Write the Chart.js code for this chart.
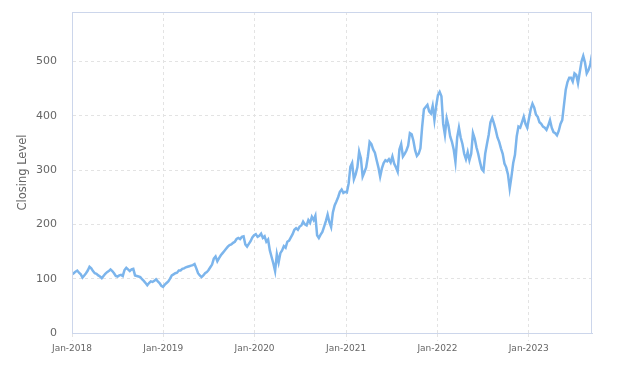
<!DOCTYPE html>
<html>
<head>
<meta charset="utf-8">
<script src="https://cdn.jsdelivr.net/npm/chart.js@4"></script>
<style>
  html, body { margin: 0; padding: 0; background: #fff; }
  #wrap { width: 631px; height: 366px; }
</style>
</head>
<body>
<div id="wrap"><canvas id="chart"></canvas></div>
<script>
// weekly closing levels, first week = start of Jan 2018
const startDate = "2018-01-01";
const closes2018 = [108, 110, 113, 115, 111, 108, 102, 106, 110, 115, 122, 119, 114, 110, 109, 106, 104, 101, 105, 109, 112, 114, 117, 114, 110, 105, 104, 106, 107, 105, 116, 120, 117, 114, 117, 118, 106, 105, 104, 103, 99, 96, 92, 88, 92, 95, 94, 96, 99, 95, 92, 87];
const closes2019 = [85, 89, 92, 95, 100, 106, 108, 110, 111, 115, 115, 118, 119, 121, 122, 123, 124, 125, 127, 119, 110, 106, 103, 106, 110, 112, 116, 121, 126, 137, 141, 132, 138, 143, 147, 151, 155, 159, 162, 163, 166, 168, 173, 175, 173, 177, 178, 163, 159, 164, 169, 176];
const closes2020 = [180, 182, 177, 179, 183, 175, 178, 168, 172, 152, 140, 128, 114, 145, 130, 147, 152, 160, 157, 168, 170, 176, 182, 190, 193, 190, 196, 198, 205, 200, 198, 208, 203, 214, 208, 216, 180, 175, 181, 186, 196, 206, 218, 204, 195, 222, 235, 242, 250, 260, 264, 258];
const closes2021 = [260, 259, 275, 306, 313, 283, 292, 305, 334, 322, 288, 296, 305, 325, 352, 348, 338, 332, 318, 305, 288, 303, 313, 318, 316, 320, 314, 325, 312, 305, 297, 338, 348, 325, 330, 336, 345, 368, 366, 354, 336, 326, 330, 340, 380, 412, 416, 420, 408, 404, 418, 392];
const closes2022 = [418, 438, 444, 436, 385, 365, 395, 382, 362, 352, 338, 315, 360, 378, 360, 348, 330, 320, 333, 318, 330, 368, 358, 342, 330, 315, 302, 298, 330, 348, 365, 388, 396, 386, 374, 360, 352, 340, 330, 312, 305, 292, 266, 288, 313, 328, 362, 380, 378, 388, 398, 385];
const closes2023 = [378, 395, 412, 422, 415, 402, 398, 388, 385, 380, 378, 374, 382, 392, 378, 370, 368, 364, 372, 385, 392, 420, 448, 462, 470, 470, 463, 478, 475, 460, 480, 500, 510, 498, 478, 484, 494, 513];

const closes = [...closes2018, ...closes2019, ...closes2020, ...closes2021, ...closes2022, ...closes2023];
const yearLabels = ["Jan-2018", "Jan-2019", "Jan-2020", "Jan-2021", "Jan-2022", "Jan-2023"];
const yearStarts = ["2018-01-01", "2019-01-01", "2020-01-01", "2021-01-01", "2022-01-01", "2023-01-01"];
const yTicks = [0, 100, 200, 300, 400, 500];

const DAY = 86400000;
function weekOf(d) {
  return (new Date(d) - new Date(startDate)) / DAY / 7;
}
const yearTickPos = yearStarts.map(weekOf);

const points = closes.map((v, i) => ({ x: i, y: v }));

const frame = {
  id: "frame",
  afterDraw(chart) {
    const { ctx, chartArea: a } = chart;
    ctx.save();
    ctx.strokeStyle = "#ccd6eb";
    ctx.lineWidth = 1;
    ctx.strokeRect(a.left + 0.5, a.top + 0.5, a.right - a.left - 1, a.bottom - a.top);
    ctx.restore();
  },
};

Chart.defaults.font.family = "'DejaVu Sans', sans-serif";
Chart.defaults.color = "#666666";

new Chart(document.getElementById("chart"), {
  type: "line",
  data: {
    datasets: [
      {
        label: "Closing Level",
        data: points,
        borderColor: "#7cb5ec",
        borderWidth: 2.5,
        pointRadius: 0,
        tension: 0,
        fill: false,
      },
    ],
  },
  options: {
    responsive: true,
    maintainAspectRatio: false,
    animation: false,
    layout: { padding: { top: 12, right: 39, left: 0, bottom: 0 } },
    plugins: { legend: { display: false }, tooltip: { enabled: false } },
    scales: {
      x: {
        type: "linear",
        min: 0,
        max: closes.length - 1,
        afterBuildTicks: (s) => {
          s.ticks = yearTickPos.map((v) => ({ value: v }));
        },
        afterFit: (s) => {
          s.height = 33;
          s.paddingLeft = 0;
          s.paddingRight = 0;
        },
        ticks: {
          autoSkip: false,
          maxRotation: 0,
          padding: 2,
          font: { size: 9 },
          callback: (v) => {
            const i = yearTickPos.findIndex((p) => Math.abs(p - v) < 0.01);
            return i >= 0 ? yearLabels[i] : "";
          },
        },
        grid: {
          color: "#e3e3e3",
          tickColor: "#e3e3e3",
          tickLength: 8,
          tickBorderDash: [3, 3],
        },
        border: { display: true, color: "#ccd6eb", dash: [3, 3] },
      },
      y: {
        min: 0,
        max: 591,
        afterBuildTicks: (s) => {
          s.ticks = yTicks.map((v) => ({ value: v }));
        },
        afterFit: (s) => {
          s.width = 72;
          s.paddingTop = 0;
          s.paddingBottom = 0;
        },
        title: {
          display: true,
          text: "Closing Level",
          font: { size: 11.5 },
          color: "#666666",
          padding: { top: 16, bottom: 0 },
        },
        ticks: { padding: 15, font: { size: 11 } },
        grid: { color: "#e3e3e3", drawTicks: false },
        border: { display: true, color: "#ccd6eb", dash: [3, 3] },
      },
    },
  },
  plugins: [frame],
});
</script>
</body>
</html>
